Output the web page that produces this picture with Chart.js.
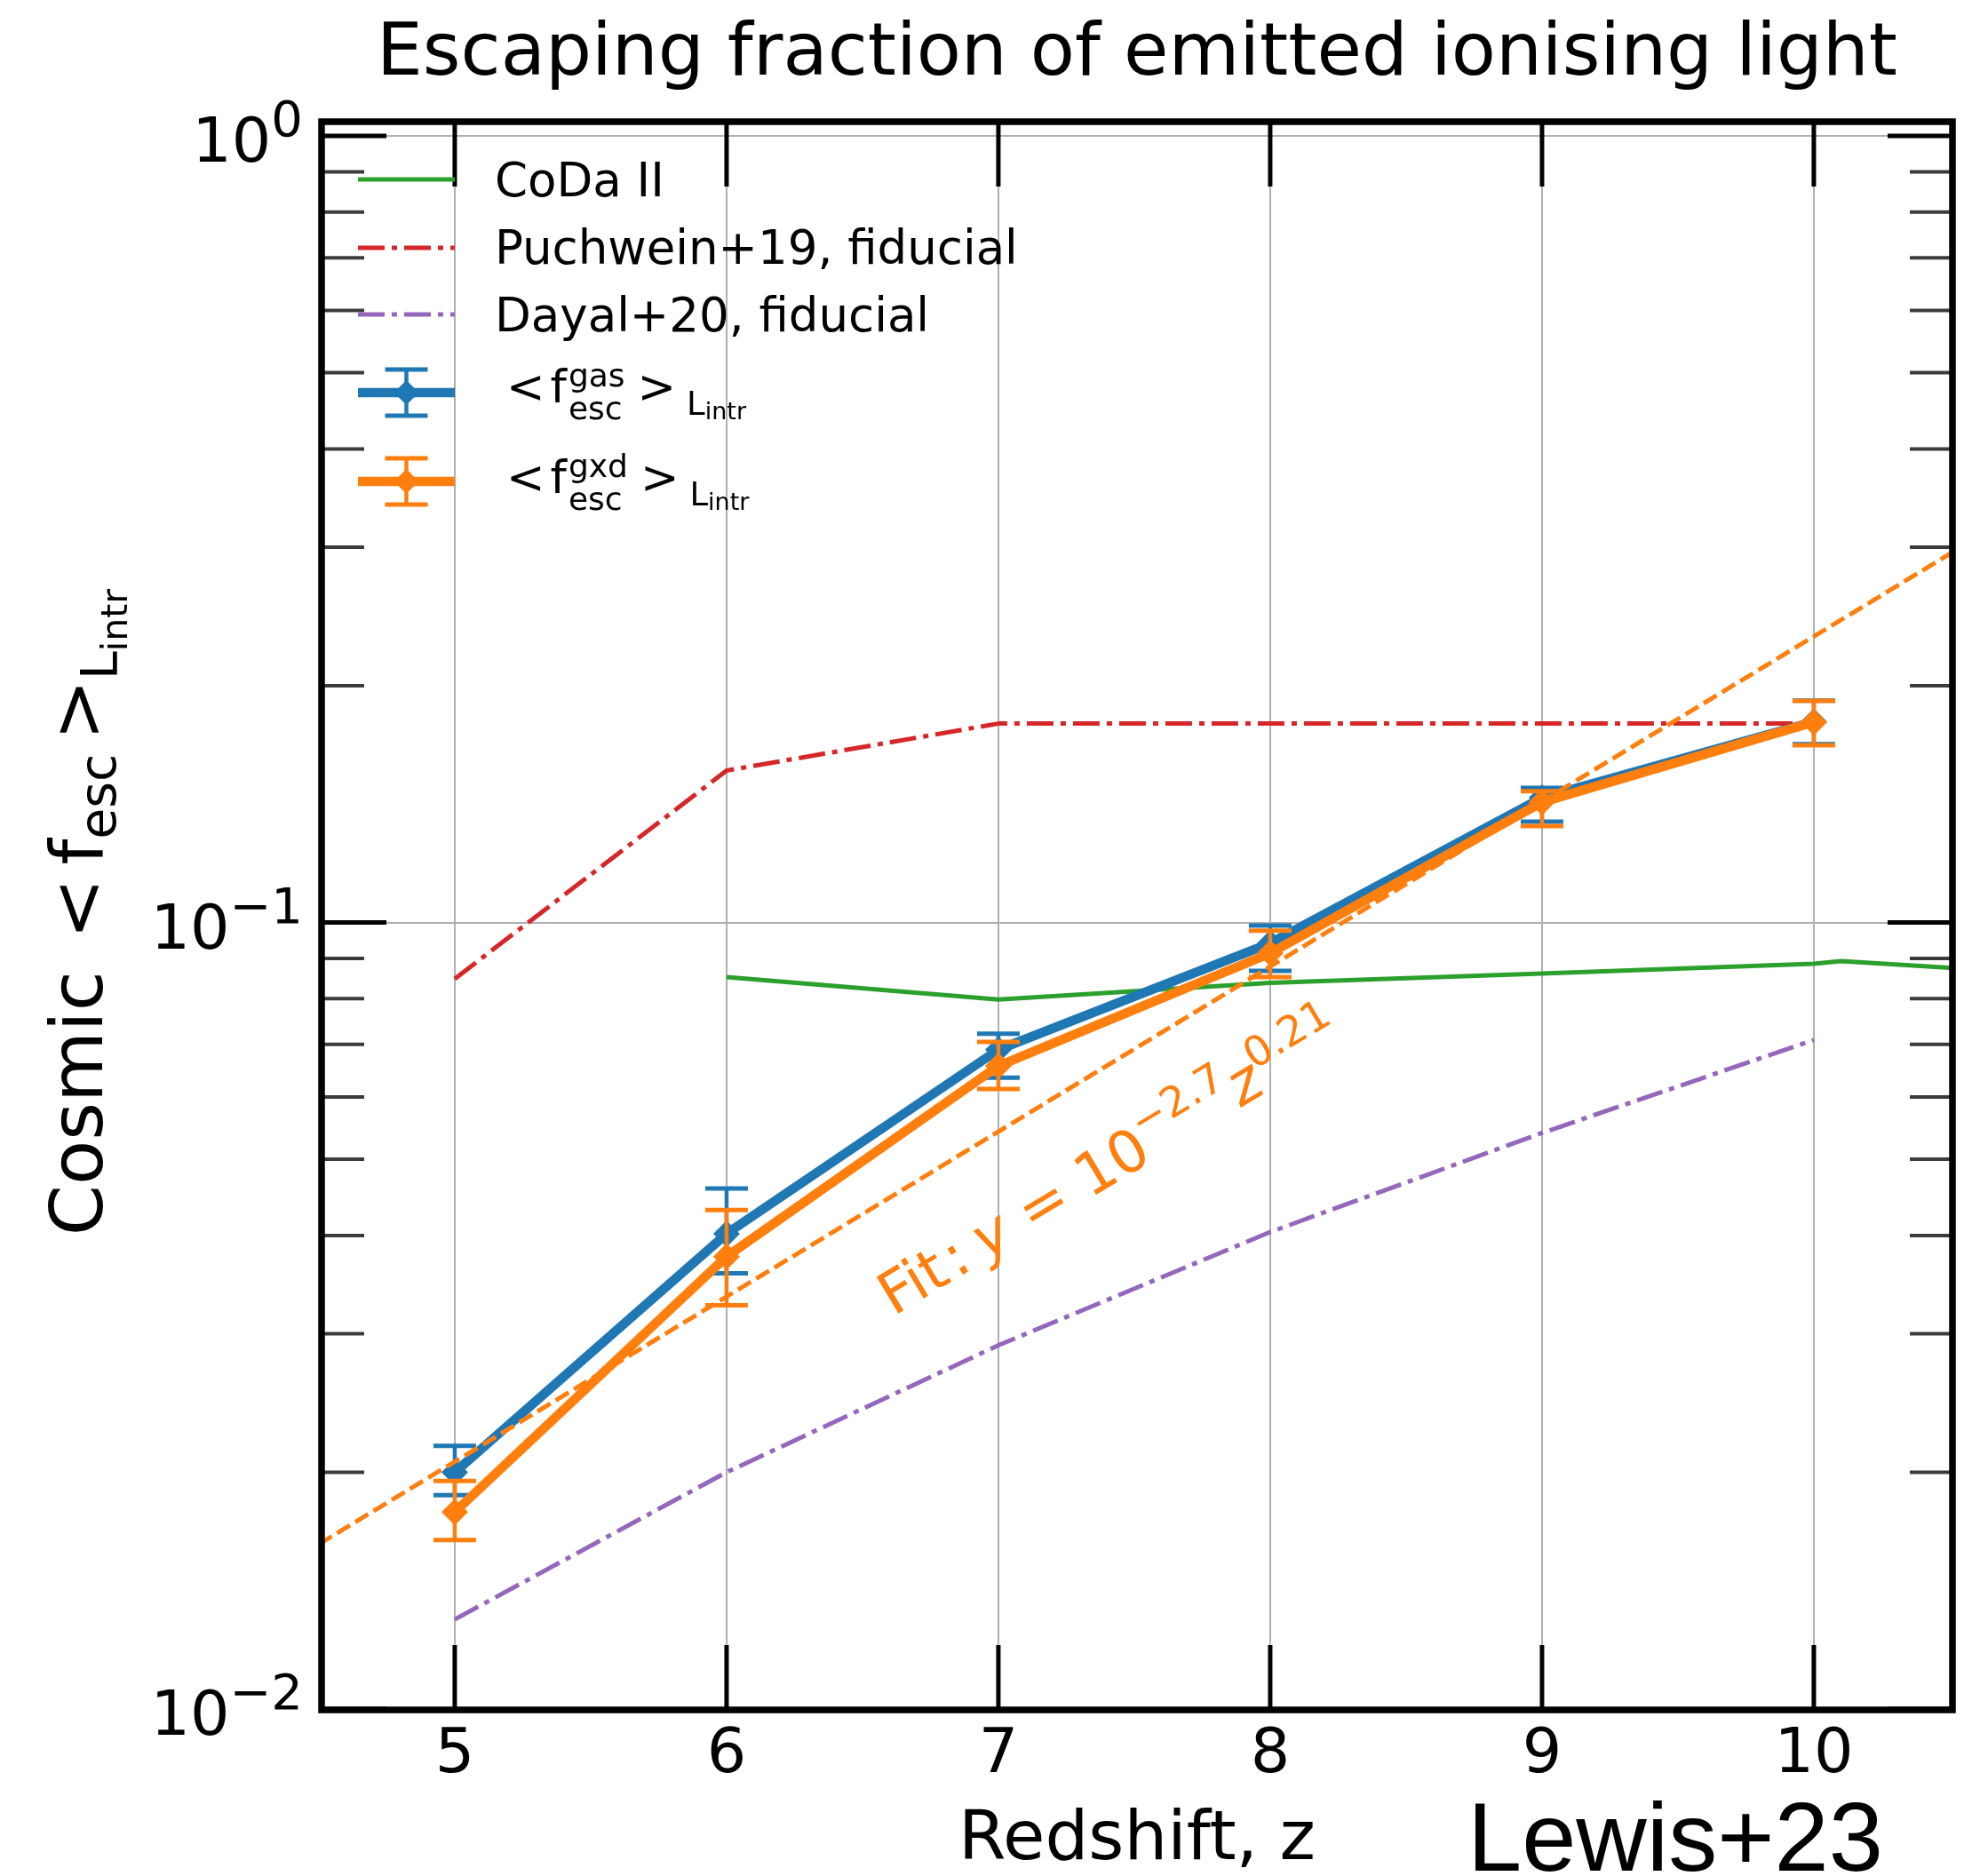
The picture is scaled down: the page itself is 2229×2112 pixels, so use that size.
<!DOCTYPE html>
<html>
<head>
<meta charset="utf-8">
<script src="https://cdn.jsdelivr.net/npm/chart.js@4.4.1/dist/chart.umd.min.js"></script>
<style>
    body { margin: 0; background: #fff; }
    #wrap { width: 2229px; height: 2112px; }
</style>
</head>
<body>
<div id="wrap"><canvas id="escChart" width="2229" height="2112"></canvas></div>
<script>
// redshift of the snapshots
const redshifts = [5, 6, 7, 8, 9, 10];

// luminosity weighted escape fractions, with the bottom / top of the error bars
const fescGas   = [0.0200, 0.0402, 0.0689, 0.0941, 0.1441, 0.1800];
const fescGasLo = [0.0187, 0.0358, 0.0635, 0.0868, 0.1343, 0.1685];
const fescGasHi = [0.0216, 0.0459, 0.0722, 0.0991, 0.1483, 0.1915];

const fescGxd   = [0.0178, 0.0376, 0.0657, 0.0914, 0.1422, 0.1798];
const fescGxdLo = [0.0164, 0.0326, 0.0614, 0.0852, 0.1326, 0.1680];
const fescGxdHi = [0.0195, 0.0431, 0.0705, 0.0976, 0.1468, 0.1913];

// other models
const codaZ = [6, 7, 8, 9, 10, 10.1, 10.52];
const codaFesc = [0.0852, 0.0798, 0.0838, 0.0861, 0.0886, 0.0893, 0.0875];
const puchweinFesc = [0.0848, 0.156, 0.179, 0.179, 0.179, 0.179];
const dayalFesc = [0.0130, 0.0200, 0.0290, 0.0404, 0.0540, 0.0709];

// power law fit, straight in log y, across the whole axis
const fitZ = [4.5, 10.52];
const fitFesc = [0.0162, 0.297];

const xTicks = [5, 6, 7, 8, 9, 10];
const yTicks = [0.01, 0.1, 1];
const yTickExp = ['−2', '−1', '0'];

const C_BLUE = '#1f77b4', C_ORANGE = '#ff7f0e', C_GREEN = '#2ca02c', C_RED = '#d62728', C_PURPLE = '#9467bd';
const FONT = '"DejaVu Sans"';
const DASHDOT = [30, 8, 6, 8];

function pts(xs, ys) {
    return xs.map((x, i) => ({ x: x, y: ys[i] }));
}

//==========text helpers===========
function runFont(r) {
    return (r.italic ? 'italic ' : '') + r.size + 'px ' + FONT;
}
// pieces of text along one baseline, a piece with stack:true does not move the pen (sup over sub)
function drawRuns(ctx, runs, x, y, angle, align, color) {
    ctx.save();
    ctx.translate(x, y);
    ctx.rotate(angle);
    ctx.fillStyle = color;
    ctx.textBaseline = 'alphabetic';
    ctx.textAlign = 'left';
    let widths = runs.map(r => { ctx.font = runFont(r); return ctx.measureText(r.text).width; });
    let total = 0, pending = 0;
    runs.forEach((r, i) => {
        if (r.stack) { pending = Math.max(pending, widths[i]); return; }
        total += Math.max(widths[i], pending) + (r.gap || 0);
        pending = 0;
    });
    let cx = align === 'center' ? -total / 2 : (align === 'right' ? -total : 0);
    pending = 0;
    runs.forEach((r, i) => {
        ctx.font = runFont(r);
        ctx.fillText(r.text, cx, r.dy || 0);
        if (r.stack) { pending = Math.max(pending, widths[i]); return; }
        cx += Math.max(widths[i], pending) + (r.gap || 0);
        pending = 0;
    });
    ctx.restore();
}
function seg(ctx, x1, y1, x2, y2) {
    ctx.beginPath();
    ctx.moveTo(x1, y1);
    ctx.lineTo(x2, y2);
    ctx.stroke();
}
function diamond(ctx, x, y, r, color) {
    ctx.fillStyle = color;
    ctx.beginPath();
    ctx.moveTo(x, y - r);
    ctx.lineTo(x + r, y);
    ctx.lineTo(x, y + r);
    ctx.lineTo(x - r, y);
    ctx.closePath();
    ctx.fill();
}

//==========error bars, drawn under the markers of their own series===========
const errorBars = {
    id: 'errorBars',
    beforeDatasetDraw(chart, args) {
        const ds = chart.data.datasets[args.index];
        if (!ds.errLo) return;
        const ctx = chart.ctx, x = chart.scales.x, y = chart.scales.y;
        ctx.save();
        ctx.strokeStyle = ds.borderColor;
        redshifts.forEach((z, i) => {
            const px = x.getPixelForValue(z);
            const lo = y.getPixelForValue(ds.errLo[i]);
            const hi = y.getPixelForValue(ds.errHi[i]);
            ctx.lineWidth = 4.5;
            seg(ctx, px, lo, px, hi);
            ctx.lineWidth = 5;
            seg(ctx, px - 24, lo, px + 24, lo);
            seg(ctx, px - 24, hi, px + 24, hi);
        });
        ctx.restore();
    }
};

//==========frame, inward ticks, labels and legend===========
const decorations = {
    id: 'decorations',
    afterDraw(chart) {
        const ctx = chart.ctx, a = chart.chartArea, x = chart.scales.x, y = chart.scales.y;
        ctx.save();
        ctx.lineCap = 'butt';

        // major ticks on all four sides
        ctx.strokeStyle = '#000';
        ctx.lineWidth = 5;
        xTicks.forEach(v => {
            const px = x.getPixelForValue(v);
            seg(ctx, px, a.bottom, px, a.bottom - 73);
            seg(ctx, px, a.top, px, a.top + 73);
        });
        yTicks.forEach(v => {
            const py = y.getPixelForValue(v);
            seg(ctx, a.left, py, a.left + 73, py);
            seg(ctx, a.right, py, a.right - 73, py);
        });
        // minor ticks of the log axis
        ctx.strokeStyle = '#3c3c3c';
        ctx.lineWidth = 4;
        [0.01, 0.1].forEach(dec => {
            for (let m = 2; m <= 9; m++) {
                const py = y.getPixelForValue(m * dec);
                seg(ctx, a.left, py, a.left + 48, py);
                seg(ctx, a.right, py, a.right - 48, py);
            }
        });
        // frame
        ctx.strokeStyle = '#000';
        ctx.lineWidth = 7.5;
        ctx.strokeRect(a.left, a.top, a.right - a.left, a.bottom - a.top);

        // decade labels of the y axis, 10 with a raised exponent
        yTicks.forEach((v, i) => {
            const py = y.getPixelForValue(v);
            drawRuns(ctx, [
                { text: '10', size: 70 },
                { text: yTickExp[i], size: 56, dy: -29 }
            ], a.left - 21, py + 29, 0, 'right', '#000');
        });

        // title and axis labels
        ctx.fillStyle = '#000';
        ctx.textAlign = 'center';
        ctx.textBaseline = 'alphabetic';
        const midX = (a.left + a.right) / 2;
        ctx.font = '82px ' + FONT;
        ctx.fillText('Escaping fraction of emitted ionising light', midX, 84);
        ctx.font = '77px ' + FONT;
        ctx.fillText('Redshift, z', midX, 2093);
        ctx.textAlign = 'left';
        ctx.font = '110px "Liberation Sans"';
        ctx.fillText('Lewis+23', 1652, 2106);

        drawRuns(ctx, [
            { text: 'Cosmic', size: 82, gap: 36 },
            { text: '<', size: 82, gap: 15 },
            { text: 'f', size: 82 },
            { text: 'esc', size: 57, dy: 15, gap: 15 },
            { text: '>', size: 82 },
            { text: 'L', size: 57, dy: 17 },
            { text: 'intr', size: 41, dy: 28 }
        ], 115, (a.top + a.bottom) / 2 - 4, -Math.PI / 2, 'center', '#000');

        // fit annotation along the dashed line
        drawRuns(ctx, [
            { text: 'Fit', size: 66, gap: 6 },
            { text: ':', size: 66, gap: 16 },
            { text: 'y', size: 66, italic: true },
            { text: ' = ', size: 66 },
            { text: '10', size: 66 },
            { text: '−2.7', size: 47, dy: -29 },
            { text: 'z', size: 66, italic: true },
            { text: '0.21', size: 47, dy: -29 }
        ], 1006, 1482, -31 * Math.PI / 180, 'left', C_ORANGE);

        // legend
        const hx0 = 403, hx1 = 512, hxm = (hx0 + hx1) / 2, tx = 557;
        ctx.strokeStyle = C_GREEN; ctx.lineWidth = 5;
        seg(ctx, hx0, 202, hx1, 202);
        ctx.strokeStyle = C_RED; ctx.setLineDash(DASHDOT);
        seg(ctx, hx0, 279, hx1, 279);
        ctx.strokeStyle = C_PURPLE;
        seg(ctx, hx0, 354, hx1, 354);
        ctx.setLineDash([]);
        [[C_BLUE, 442], [C_ORANGE, 542]].forEach(([col, ly]) => {
            ctx.strokeStyle = col;
            ctx.lineWidth = 10.5;
            seg(ctx, hx0, ly, hx1, ly);
            ctx.lineWidth = 4.5;
            seg(ctx, hxm, ly - 26, hxm, ly + 26);
            ctx.lineWidth = 5;
            seg(ctx, hxm - 24, ly - 26, hxm + 24, ly - 26);
            seg(ctx, hxm - 24, ly + 26, hxm + 24, ly + 26);
            diamond(ctx, hxm, ly, 14, col);
        });
        ctx.fillStyle = '#000';
        ctx.font = '53px ' + FONT;
        ctx.fillText('CoDa II', tx, 221);
        ctx.fillText('Puchwein+19, fiducial', tx, 297);
        ctx.fillText('Dayal+20, fiducial', tx, 373);
        [['gas', 453], ['gxd', 555]].forEach(([tag, base]) => {
            drawRuns(ctx, [
                { text: '<', size: 52, gap: 6 },
                { text: 'f', size: 52, gap: 2 },
                { text: tag, size: 36, dy: -18, stack: true },
                { text: 'esc', size: 36, dy: 19, gap: 14 },
                { text: '>', size: 52, gap: 12 },
                { text: 'L', size: 37, dy: 14 },
                { text: 'intr', size: 27, dy: 19 }
            ], 570, base, 0, 'left', '#000');
        });
        ctx.restore();
    }
};

const ctx = document.getElementById('escChart');
new Chart(ctx, {
    type: 'line',
    data: {
        datasets: [
            {
                label: 'fit',
                data: pts(fitZ, fitFesc),
                borderColor: C_ORANGE, borderWidth: 5, borderDash: [17, 7],
                pointRadius: 0, order: 0
            },
            {
                label: 'gxd',
                data: pts(redshifts, fescGxd),
                errLo: fescGxdLo, errHi: fescGxdHi,
                borderColor: C_ORANGE, borderWidth: 10.5,
                pointStyle: 'rectRot', pointRadius: 15, pointBorderWidth: 0,
                pointBackgroundColor: C_ORANGE, order: 1
            },
            {
                label: 'gas',
                data: pts(redshifts, fescGas),
                errLo: fescGasLo, errHi: fescGasHi,
                borderColor: C_BLUE, borderWidth: 10.5,
                pointStyle: 'rectRot', pointRadius: 15, pointBorderWidth: 0,
                pointBackgroundColor: C_BLUE, order: 2
            },
            {
                label: 'Dayal+20, fiducial',
                data: pts(redshifts, dayalFesc),
                borderColor: C_PURPLE, borderWidth: 5, borderDash: DASHDOT,
                pointRadius: 0, order: 3
            },
            {
                label: 'Puchwein+19, fiducial',
                data: pts(redshifts, puchweinFesc),
                borderColor: C_RED, borderWidth: 5, borderDash: DASHDOT,
                pointRadius: 0, order: 4
            },
            {
                label: 'CoDa II',
                data: pts(codaZ, codaFesc),
                borderColor: C_GREEN, borderWidth: 5,
                pointRadius: 0, order: 5
            }
        ]
    },
    options: {
        responsive: false,
        animation: false,
        devicePixelRatio: 1,
        clip: 0,
        elements: { line: { tension: 0, borderCapStyle: 'butt', borderJoinStyle: 'round' } },
        layout: { padding: { top: 137, right: 31, left: 0, bottom: 0 } },
        plugins: { legend: { display: false }, title: { display: false }, tooltip: { enabled: false } },
        scales: {
            x: {
                type: 'linear',
                min: 4.51, max: 10.51,
                afterBuildTicks: s => { s.ticks = xTicks.map(v => ({ value: v })); },
                afterFit: s => { s.height = 187; },
                grid: { color: '#b0b0b0', lineWidth: 2, drawTicks: false },
                border: { display: false },
                ticks: {
                    autoSkip: false, maxRotation: 0, padding: 10, color: '#000',
                    font: { family: 'DejaVu Sans', size: 70 },
                    callback: v => String(v)
                }
            },
            y: {
                type: 'logarithmic',
                min: 0.009974, max: 1.0425,
                afterBuildTicks: s => { s.ticks = yTicks.map(v => ({ value: v })); },
                afterFit: s => { s.width = 362; },
                grid: { color: '#b0b0b0', lineWidth: 2, drawTicks: false },
                border: { display: false },
                ticks: { display: false }
            }
        }
    },
    plugins: [errorBars, decorations]
});
</script>
</body>
</html>
